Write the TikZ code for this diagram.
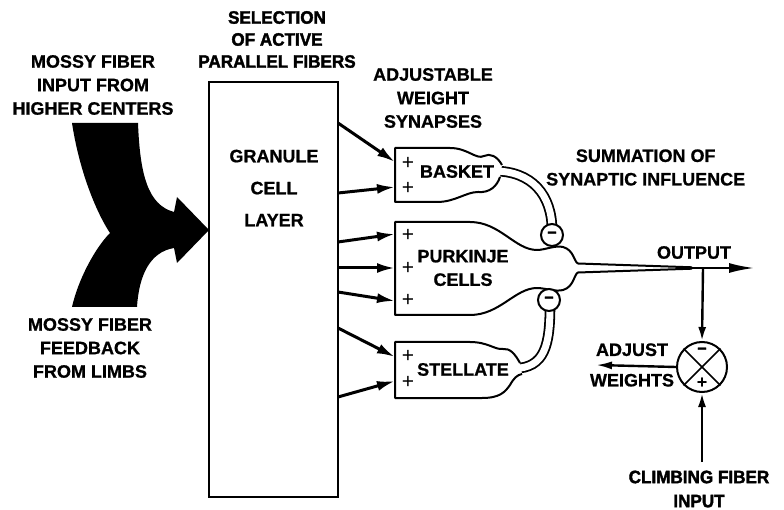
\documentclass[tikz,border=0pt]{standalone}
\usepackage{fontspec}
\setmainfont{Liberation Sans}
\newfontfamily\lblfont[FakeBold=0.8]{Liberation Sans Bold}
\newfontfamily\heavyfont[FakeBold=2, FakeStretch=0.95]{Liberation Sans Bold}
\usetikzlibrary{arrows.meta}
\begin{document}
\begin{tikzpicture}[x=1pt,y=-1pt,
  lbl/.style={font=\fontsize{18}{23.5}\selectfont\lblfont, align=center, inner sep=0pt},
  heavy/.style={font=\fontsize{18}{22}\selectfont\heavyfont, align=center, inner sep=0pt},
  plus/.style={font=\fontsize{21}{21}\selectfont, inner sep=0pt},
  cell/.style={draw=black, fill=white, line width=2pt, line join=round},
  axon/.style={draw=black, line width=1.8pt, double=white, double distance=7pt},
  term/.style={circle, draw=black, fill=white, line width=2pt, minimum size=22pt, inner sep=0pt,
               font=\fontsize{17}{17}\selectfont\heavyfont},
  fib/.style={line width=3pt, -{Latex[length=18pt,width=10pt]}},
  sig/.style={line width=2.4pt, -{Latex[length=14pt,width=8pt]}},
]
% page
\fill[white] (0,0) rectangle (784,510);
\useasboundingbox (0,0) rectangle (784,510);

% mossy fiber inputs merging into one arrow
\fill[black] (72,123) -- (138,123) .. controls (140,175) and (148,205) .. (174,212)
  -- (177,197) -- (209,230) -- (177,263) -- (174,248)
  .. controls (150,252) and (139,275) .. (137,307) -- (72,307)
  .. controls (78,280) and (95,248) .. (110,233)
  .. controls (98,215) and (80,175) .. (72,123) -- cycle;
\node[lbl] (mossin) at (93,85) {MOSSY FIBER\\INPUT FROM\\HIGHER CENTERS};
\node[lbl] (mossfb) at (90,348) {MOSSY FIBER\\FEEDBACK\\FROM LIMBS};

% granule cell layer
\node[draw, line width=2.5pt, minimum width=129pt, minimum height=415pt, inner sep=0pt] (gcl) at (273.5,289.5) {};
\node[lbl, font=\fontsize{18}{32}\selectfont\lblfont] (gcltxt) at (274,188) {GRANULE\\CELL\\LAYER};
\node[heavy] (sel) at (277,39.5) {SELECTION\\OF ACTIVE\\PARALLEL FIBERS};
\node[lbl] (adjw) at (433,98) {ADJUSTABLE\\WEIGHT\\SYNAPSES};

% basket cell
\draw[axon] (494,171) .. controls (532,171) and (552,195) .. (552,230);
\filldraw[cell] (502,165) .. controls (497,156) and (490,153) .. (484,156)
  .. controls (476,160) and (468,148) .. (450,148) -- (395,148) -- (395,202) -- (437,202)
  .. controls (455,202) and (466,192) .. (478,192)
  .. controls (490,193) and (497,186) .. (500,177);
\node[lbl] (basket) at (457,171.5) {BASKET};
\node[plus] (b1) at (408,163) {+};
\node[plus] (b2) at (408,188) {+};

% stellate cell
\draw[axon] (514,368.5) .. controls (545,368) and (550,345) .. (550,305);
\filldraw[cell] (520,363) .. controls (515,354) and (510,348) .. (503,349)
  .. controls (495,350) and (488,342) .. (470,342) -- (395,342) -- (395,398) -- (482,398)
  .. controls (500,398) and (505,392) .. (510,385)
  .. controls (514,378) and (517,375) .. (522,374);
\node[lbl] (stellate) at (463,369.5) {STELLATE};
\node[plus] (s1) at (408,356) {+};
\node[plus] (s2) at (408,382) {+};

% purkinje cell with its axon
\filldraw[cell] (692,267.3) -- (578,263.5)
  .. controls (574,262) and (574,250) .. (563,247)
  .. controls (555,245) and (545,250) .. (537,250)
  .. controls (515,250) and (500,222) .. (470,222) -- (395,222) -- (395,315) -- (470,315)
  .. controls (500,315) and (515,288) .. (537,288)
  .. controls (545,288) and (555,292) .. (563,290)
  .. controls (574,287) and (574,274) .. (578,272.5) -- (692,268.7);
\node[lbl] (purk) at (463,268) {PURKINJE\\CELLS};
\node[plus] (p1) at (408,235) {+};
\node[plus] (p2) at (408,268) {+};
\node[plus] (p3) at (408,300) {+};

% inhibitory terminals on the purkinje soma
\node[term] (bterm) at (552,235) {−};
\node[term] (sterm) at (549,300) {−};

% parallel fibers
\coordinate (g1) at (338,123); \coordinate (t1) at (395,162);
\coordinate (g2) at (338,193); \coordinate (t2) at (395,187);
\coordinate (g3) at (338,242); \coordinate (t3) at (395,234);
\coordinate (g4) at (338,268); \coordinate (t4) at (395,268);
\coordinate (g5) at (338,292); \coordinate (t5) at (395,301);
\coordinate (g6) at (338,328); \coordinate (t6) at (395,357);
\coordinate (g7) at (338,397); \coordinate (t7) at (395,381);
\foreach \i in {1,...,7} { \draw[fib] (g\i) -- (t\i); }

% output and learning loop
\node[lbl] (sum) [anchor=west] at (546,167.5) {SUMMATION OF\\SYNAPTIC INFLUENCE};
\node[lbl] (outl) at (694,252.5) {OUTPUT};
\coordinate (pax) at (690,268);
\coordinate (otip) at (755,268);
\draw[line width=2.6pt, -{Latex[length=26pt,width=10pt]}] (pax) -- (otip);

\node[circle, draw, line width=2pt, minimum size=50pt, inner sep=0pt] (cmp) at (702,367) {};
\draw[line width=1.6pt] (cmp.north west) -- (cmp.south east);
\draw[line width=1.6pt] (cmp.north east) -- (cmp.south west);
\node[plus, font=\fontsize{17}{17}\selectfont\heavyfont] (cmpm) at (702,351) {−};
\node[plus, font=\fontsize{18}{18}\selectfont\bfseries] (cmpp) at (702,383) {+};

\coordinate (tap) at (703,268);
\draw[sig] (tap) -- (cmp.north);
\coordinate (cfin) at (702,462);
\draw[sig] (cfin) -- (cmp.south);
\coordinate (adj) at (596,365);
\draw[sig, -{Latex[length=16pt,width=8pt]}] (cmp.west) -- (adj);

\node[lbl, font=\fontsize{18}{30.5}\selectfont\lblfont] (adjl) at (632,365) {ADJUST\\WEIGHTS};
\node[heavy, font=\fontsize{18}{24}\selectfont\heavyfont] (climb) at (699,489) {CLIMBING FIBER\\INPUT};
\end{tikzpicture}
\end{document}
